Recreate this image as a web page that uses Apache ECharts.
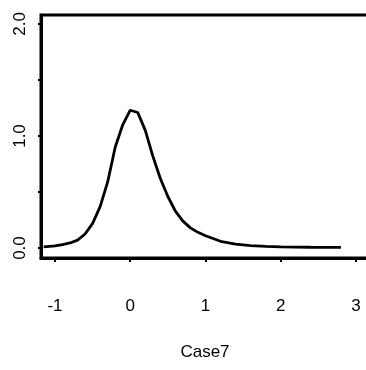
<!DOCTYPE html>
<html><head><meta charset="utf-8">
<script src="https://cdn.jsdelivr.net/npm/echarts@6/dist/echarts.min.js"></script>
<style>html,body{margin:0;padding:0;background:#fff}#c{width:366px;height:370px}</style>
</head><body><div id="c"></div>
<script>
const xValues = [-1.15,-1.0,-0.9,-0.8,-0.7,-0.6,-0.5,-0.4,-0.3,-0.2,-0.1,0.0,0.1,0.2,0.3,0.4,0.5,0.6,0.7,0.8,0.9,1.0,1.2,1.4,1.6,1.8,2.0,2.4,2.8];
const yValues = [0.01,0.02,0.03,0.045,0.07,0.125,0.22,0.37,0.59,0.90,1.10,1.23,1.21,1.05,0.82,0.62,0.46,0.33,0.24,0.18,0.14,0.11,0.06,0.035,0.022,0.015,0.01,0.007,0.005];
const xTicks = [-1,0,1,2,3];
const yTicks = [0,0.5,1,1.5,2];
const yLabels = [0,1,2];
const xName = 'Case7';

const font = "'Liberation Sans', Arial, sans-serif";
const chart = echarts.init(document.getElementById('c'), null, {renderer:'canvas'});
chart.setOption({
  animation:false,
  grid:{left:41, top:15, right:-3, bottom:112, show:true, borderColor:'#000', borderWidth:3, backgroundColor:'transparent', outerBoundsMode:'none', containLabel:false},
  xAxis:{type:'value', min:-1.186, max:3.173,
    name:xName, nameLocation:'middle', nameGap:86,
    nameTextStyle:{color:'#000', fontSize:17, fontFamily:font},
    axisLine:{show:true, onZero:false, lineStyle:{color:'#000', width:3}},
    axisTick:{show:true, length:4, lineStyle:{color:'#000', width:2}, customValues:xTicks},
    axisLabel:{color:'#000', fontSize:17, fontFamily:font, margin:40, customValues:xTicks, formatter:v=>String(v)},
    splitLine:{show:false}},
  yAxis:{type:'value', min:-0.089, max:2.08,
    axisLine:{show:true, onZero:false, lineStyle:{color:'#000', width:3}},
    axisTick:{show:true, length:3, lineStyle:{color:'#000', width:2}, customValues:yTicks},
    axisLabel:{color:'#000', fontSize:17, fontFamily:font, margin:12, rotate:90, customValues:yLabels, formatter:v=>v.toFixed(1)},
    splitLine:{show:false}},
  series:[{type:'line', data:xValues.map((x,i)=>[x,yValues[i]]), showSymbol:false, smooth:false,
    lineStyle:{color:'#000', width:2.8}}]
});
</script></body></html>
